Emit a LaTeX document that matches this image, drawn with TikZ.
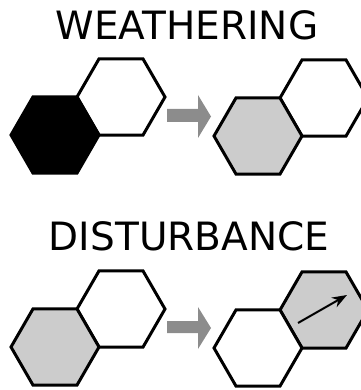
\documentclass[tikz,border=0pt]{standalone}
\usepackage{fontspec}
\setmainfont{DejaVu Sans}
\usetikzlibrary{shapes.geometric,arrows.meta}
\definecolor{lgray}{HTML}{CCCCCC}
\definecolor{agray}{HTML}{8C8C8C}
\tikzset{
  hex/.style={regular polygon, regular polygon sides=6, minimum size=88pt, inner sep=0pt, outer sep=0pt, draw=black, line width=3pt, line join=miter},
  title/.style={font=\fontsize{39}{44}\selectfont, anchor=base, inner sep=0pt},
  bigarrow/.style={fill=agray},
}
\begin{document}
\begin{tikzpicture}[x=1pt,y=-1pt]
\useasboundingbox (0,0) rectangle (360,390);
% Weathering
\node[title] (t1) at (187,40) {WEATHERING};
\node[hex, fill=white] (w1b) at (121,97) {};
\node[hex, fill=black] (w1a) at (55,135) {};
\fill[bigarrow] (167,109) -- (198,109) -- (198,95) -- (211,116.5) -- (198,138) -- (198,122) -- (167,122) -- cycle;
\node[hex, fill=white] (w2b) at (324,98) {};
\node[hex, fill=lgray] (w2a) at (258,136) {};
% Disturbance
\node[title] (t2) at (189,250) {DISTURBANCE};
\node[hex, fill=white] (d1b) at (121,309) {};
\node[hex, fill=lgray] (d1a) at (55,347) {};
\fill[bigarrow] (167,321) -- (198,321) -- (198,307) -- (211,328) -- (198,349) -- (198,333) -- (167,333) -- cycle;
\node[hex, fill=lgray] (d2b) at (324,310) {};
\node[hex, fill=white] (d2a) at (258,348) {};
\coordinate (m1) at (298,323);
\coordinate (m2) at (347,295);
\draw[line width=2pt, -{Stealth[length=15pt,width=11pt]}] (m1) -- (m2);
\end{tikzpicture}
\end{document}
